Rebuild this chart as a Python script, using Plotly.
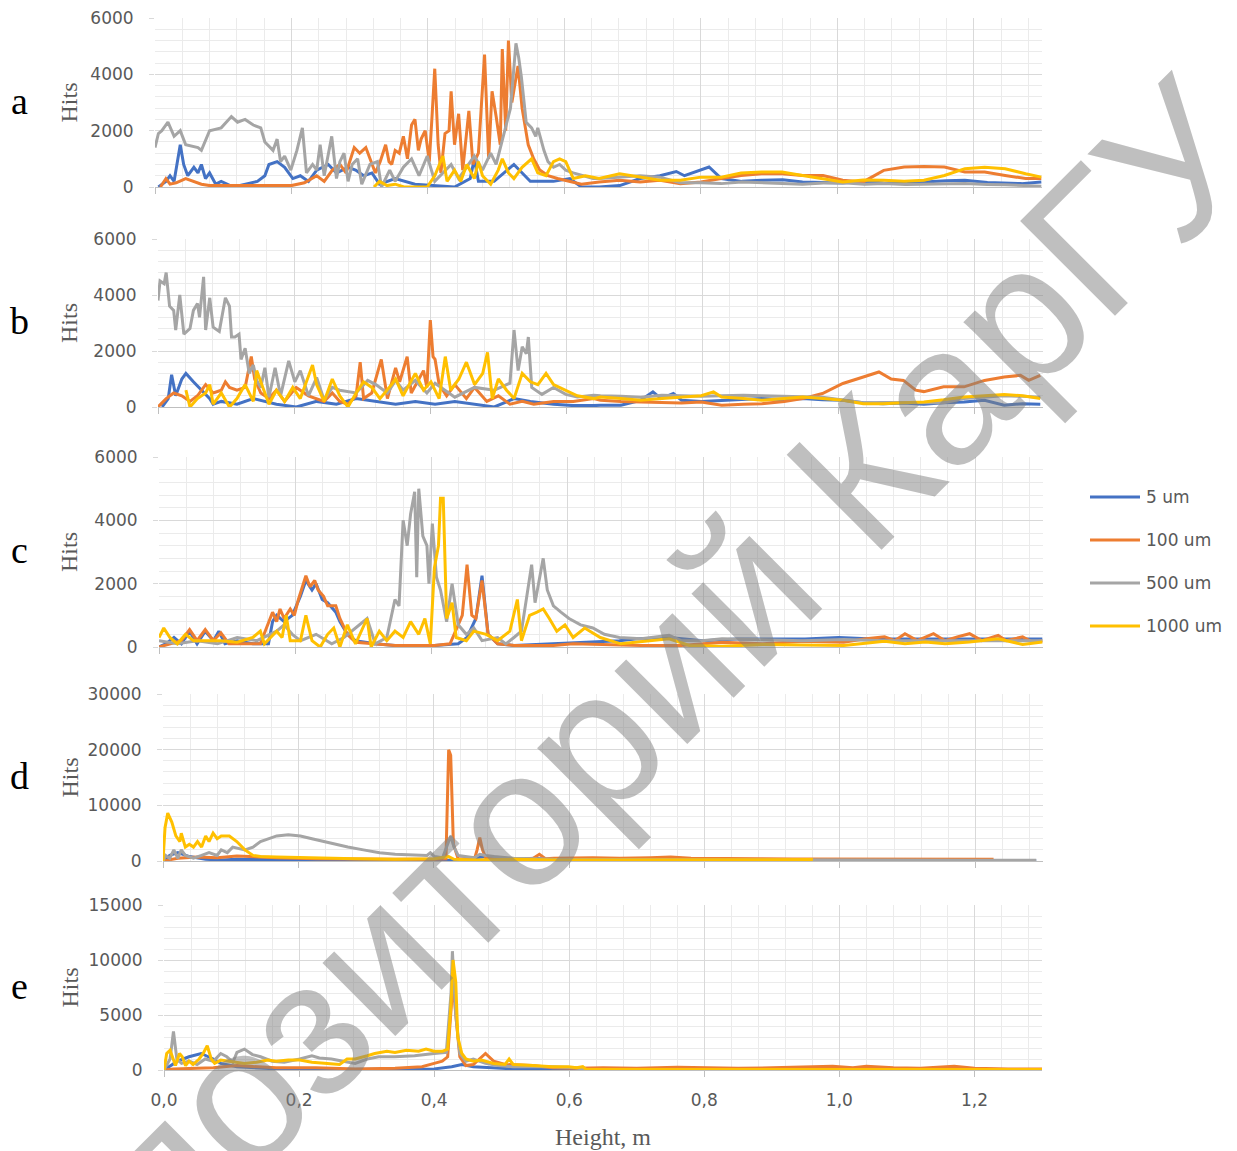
import plotly.graph_objects as go

W, H = 1237, 1151

SERIES_NAMES = ["5 um", "100 um", "500 um", "1000 um"]
SERIES_COLORS = ["#4472C4", "#ED7D31", "#A5A5A5", "#FFC000"]
PANEL_LABELS = ["a", "b", "c", "d", "e"]
Y_MAX = [6000, 6000, 6000, 30000, 15000]
Y_MAJOR = [2000, 2000, 2000, 10000, 5000]
Y_MINOR = [400, 400, 400, 2000, 1000]
X_TICK_VALUES = [0.0, 0.2, 0.4, 0.6, 0.8, 1.0, 1.2]
X_TICK_LABELS = ["0,0", "0,2", "0,4", "0,6", "0,8", "1,0", "1,2"]
X_TITLE = "Height, m"
Y_TITLE = "Hits"
WATERMARK = "Репозиторий КарГУ"

# ---------------- panel a ----------------
A_5UM = [(0.005,0),(0.016,200),(0.022,400),(0.028,200),(0.037,1500),(0.042,800),(0.048,400),(0.057,700),(0.063,500),(0.068,800),(0.074,300),(0.080,500),(0.089,100),(0.097,200),(0.115,0),(0.132,100),(0.150,200),(0.161,400),(0.167,800),(0.179,900),(0.190,700),(0.202,300),(0.213,400),(0.225,200),(0.237,600),(0.254,800),(0.266,500),(0.283,700),(0.294,600),(0.306,400),(0.318,500),(0.329,100),(0.352,300),(0.381,100),(0.410,50),(0.439,0),(0.462,300),(0.468,1000),(0.474,200),(0.497,200),(0.526,800),(0.550,200),(0.584,200),(0.608,300),(0.625,0),(0.651,0),(0.681,50),(0.711,300),(0.740,400),(0.764,550),(0.776,400),(0.794,550),(0.812,710),(0.830,300),(0.860,200),(0.889,240),(0.920,260),(0.949,180),(0.980,160),(1.008,140),(1.040,200),(1.068,140),(1.100,120),(1.127,180),(1.160,220),(1.187,240),(1.220,160),(1.246,140),(1.270,120),(1.299,180)]
A_100UM = [(0.008,0),(0.016,300),(0.022,100),(0.031,150),(0.045,300),(0.057,200),(0.068,100),(0.080,50),(0.121,50),(0.167,50),(0.200,50),(0.219,150),(0.231,300),(0.237,400),(0.248,200),(0.260,600),(0.271,800),(0.280,500),(0.292,1400),(0.300,1200),(0.309,1400),(0.318,800),(0.323,500),(0.330,900),(0.338,1500),(0.343,900),(0.347,800),(0.352,1300),(0.358,1200),(0.364,1800),(0.370,1000),(0.376,2200),(0.381,2400),(0.386,1300),(0.390,1700),(0.396,2000),(0.402,900),(0.406,2500),(0.410,4200),(0.415,1500),(0.419,500),(0.425,1900),(0.431,2000),(0.434,3400),(0.439,1500),(0.445,2600),(0.451,600),(0.460,2700),(0.466,800),(0.474,1200),(0.483,4700),(0.489,1000),(0.494,3400),(0.500,2500),(0.506,1500),(0.509,4900),(0.514,2000),(0.518,5200),(0.523,3000),(0.532,4300),(0.538,2800),(0.547,1500),(0.555,1000),(0.564,600),(0.576,400),(0.590,300),(0.608,200),(0.625,100),(0.651,180),(0.681,240),(0.711,180),(0.740,240),(0.770,120),(0.800,180),(0.830,300),(0.859,410),(0.889,470),(0.919,470),(0.949,410),(0.979,410),(1.008,240),(1.038,180),(1.068,590),(1.098,710),(1.127,730),(1.157,710),(1.187,530),(1.216,530),(1.246,410),(1.276,300),(1.299,300)]
A_500UM = [(0.000,1400),(0.005,1900),(0.010,2000),(0.019,2300),(0.028,1800),(0.037,2000),(0.045,1500),(0.063,1400),(0.068,1300),(0.080,2000),(0.097,2100),(0.112,2500),(0.121,2300),(0.132,2400),(0.144,2200),(0.155,2100),(0.161,1600),(0.173,1300),(0.179,1700),(0.184,900),(0.190,1100),(0.199,600),(0.208,1300),(0.216,2100),(0.222,500),(0.231,800),(0.237,600),(0.242,1500),(0.248,400),(0.259,1800),(0.266,300),(0.271,900),(0.277,1200),(0.283,200),(0.289,800),(0.297,1000),(0.303,100),(0.315,800),(0.326,900),(0.332,0),(0.344,600),(0.352,200),(0.364,700),(0.376,1000),(0.387,400),(0.399,1100),(0.410,200),(0.422,500),(0.434,800),(0.445,300),(0.457,700),(0.468,1100),(0.480,600),(0.492,1200),(0.500,800),(0.512,2000),(0.521,2800),(0.529,5100),(0.533,4600),(0.537,3900),(0.544,2300),(0.552,2100),(0.558,1800),(0.561,2100),(0.570,1300),(0.576,900),(0.584,700),(0.593,800),(0.602,600),(0.613,500),(0.642,300),(0.651,300),(0.681,350),(0.711,400),(0.740,350),(0.770,150),(0.800,150),(0.830,120),(0.860,180),(0.889,150),(0.920,120),(0.949,100),(0.980,140),(1.008,150),(1.040,100),(1.068,120),(1.100,90),(1.127,100),(1.160,130),(1.187,120),(1.220,90),(1.246,80),(1.299,30)]
A_1000UM = [(0.321,0),(0.329,200),(0.340,50),(0.352,100),(0.365,0),(0.381,0),(0.399,0),(0.410,400),(0.422,1100),(0.428,200),(0.439,600),(0.448,200),(0.457,800),(0.468,300),(0.474,900),(0.480,400),(0.492,100),(0.503,600),(0.509,1000),(0.518,500),(0.526,300),(0.538,700),(0.552,1000),(0.561,500),(0.573,400),(0.584,900),(0.593,1000),(0.602,900),(0.613,300),(0.631,400),(0.651,300),(0.681,470),(0.711,350),(0.740,240),(0.770,240),(0.800,350),(0.830,350),(0.859,500),(0.889,530),(0.919,530),(0.949,410),(0.979,300),(1.008,180),(1.038,250),(1.068,240),(1.098,200),(1.127,240),(1.157,410),(1.187,650),(1.216,700),(1.246,650),(1.276,470),(1.299,350)]

# ---------------- panel b ----------------
B_5UM = [(0.006,0),(0.015,300),(0.020,1150),(0.026,400),(0.035,1000),(0.041,1200),(0.052,900),(0.064,600),(0.076,300),(0.081,100),(0.093,200),(0.116,100),(0.140,300),(0.174,100),(0.203,0),(0.233,200),(0.262,100),(0.291,300),(0.320,200),(0.349,100),(0.378,200),(0.407,100),(0.436,200),(0.465,100),(0.494,0),(0.523,300),(0.547,200),(0.581,100),(0.610,50),(0.640,50),(0.650,60),(0.680,60),(0.709,240),(0.727,540),(0.739,300),(0.757,480),(0.769,240),(0.798,200),(0.828,240),(0.860,280),(0.887,300),(0.920,260),(0.947,300),(0.976,260),(1.006,240),(1.036,150),(1.065,120),(1.095,140),(1.125,100),(1.154,150),(1.184,180),(1.214,240),(1.243,60),(1.270,120),(1.296,100)]
B_100UM = [(0.000,0),(0.012,300),(0.023,500),(0.035,400),(0.047,200),(0.058,400),(0.070,800),(0.081,500),(0.093,600),(0.099,900),(0.105,700),(0.116,600),(0.128,700),(0.137,1800),(0.142,1000),(0.151,500),(0.163,300),(0.174,600),(0.186,200),(0.203,700),(0.221,400),(0.233,300),(0.244,200),(0.256,500),(0.267,200),(0.279,100),(0.291,400),(0.297,1600),(0.302,300),(0.314,500),(0.328,1700),(0.337,300),(0.349,1400),(0.355,900),(0.366,1800),(0.372,500),(0.384,1000),(0.390,1300),(0.395,700),(0.400,3100),(0.404,1800),(0.407,1700),(0.413,800),(0.424,400),(0.436,800),(0.453,300),(0.465,700),(0.483,200),(0.500,400),(0.517,100),(0.535,200),(0.552,100),(0.581,200),(0.610,200),(0.640,300),(0.650,240),(0.680,200),(0.709,180),(0.740,160),(0.769,140),(0.798,180),(0.828,60),(0.860,100),(0.887,120),(0.920,200),(0.947,300),(0.976,480),(1.006,840),(1.036,1070),(1.059,1250),(1.077,1000),(1.095,950),(1.113,600),(1.125,550),(1.154,720),(1.184,720),(1.214,950),(1.243,1070),(1.267,1130),(1.279,950),(1.296,1130)]
B_500UM = [(0.000,3800),(0.003,4500),(0.009,4400),(0.012,4800),(0.017,3600),(0.023,3450),(0.026,2750),(0.032,4000),(0.038,2600),(0.047,2800),(0.052,3450),(0.058,3700),(0.061,3200),(0.067,4650),(0.070,2750),(0.076,3900),(0.081,2850),(0.090,2700),(0.099,3900),(0.105,3600),(0.108,2500),(0.113,2500),(0.119,2600),(0.122,1700),(0.128,2100),(0.134,1200),(0.140,1500),(0.145,950),(0.151,700),(0.157,1400),(0.163,350),(0.172,1400),(0.180,400),(0.192,1650),(0.201,900),(0.209,1300),(0.221,400),(0.233,1050),(0.244,250),(0.256,700),(0.267,600),(0.291,500),(0.308,950),(0.320,800),(0.337,500),(0.349,950),(0.360,600),(0.378,950),(0.395,500),(0.407,850),(0.436,350),(0.465,700),(0.494,600),(0.517,850),(0.523,2750),(0.529,1300),(0.535,2150),(0.541,1900),(0.544,2500),(0.549,700),(0.564,450),(0.581,700),(0.599,450),(0.616,360),(0.640,420),(0.650,400),(0.680,380),(0.709,350),(0.740,420),(0.769,400),(0.798,380),(0.828,400),(0.860,420),(0.887,400),(0.920,380),(0.947,350),(0.976,350),(1.006,250),(1.036,150),(1.065,160),(1.095,150),(1.125,140),(1.154,150),(1.184,300),(1.214,350),(1.243,400),(1.270,380),(1.296,350)]
B_1000UM = [(0.041,600),(0.047,0),(0.058,300),(0.070,500),(0.076,800),(0.081,100),(0.093,500),(0.105,0),(0.116,300),(0.128,800),(0.140,200),(0.145,1300),(0.154,700),(0.163,100),(0.174,600),(0.186,200),(0.198,700),(0.209,300),(0.227,1500),(0.233,800),(0.244,200),(0.256,1000),(0.267,400),(0.279,0),(0.291,500),(0.302,900),(0.314,700),(0.326,300),(0.343,800),(0.349,1000),(0.360,400),(0.378,1200),(0.390,600),(0.401,900),(0.413,300),(0.422,1800),(0.430,600),(0.442,1000),(0.453,1600),(0.465,800),(0.477,1200),(0.484,1950),(0.491,300),(0.500,1000),(0.512,600),(0.523,300),(0.535,1200),(0.547,900),(0.558,800),(0.570,1200),(0.581,800),(0.599,600),(0.616,400),(0.640,300),(0.650,360),(0.680,300),(0.709,240),(0.740,300),(0.769,360),(0.798,400),(0.816,540),(0.828,360),(0.860,300),(0.887,240),(0.920,300),(0.947,360),(0.976,300),(1.006,240),(1.036,120),(1.065,120),(1.095,150),(1.125,180),(1.154,260),(1.184,360),(1.214,400),(1.243,450),(1.270,400),(1.296,300)]

# ---------------- panel c ----------------
C_5UM = [(0.000,0),(0.010,100),(0.022,300),(0.033,100),(0.045,500),(0.056,100),(0.068,500),(0.080,200),(0.088,500),(0.097,100),(0.115,200),(0.138,100),(0.161,100),(0.167,800),(0.173,1000),(0.184,800),(0.196,1000),(0.208,1600),(0.216,2100),(0.225,1800),(0.231,2000),(0.240,1500),(0.248,1400),(0.260,1100),(0.266,800),(0.277,400),(0.289,200),(0.318,100),(0.347,50),(0.405,50),(0.440,100),(0.453,300),(0.466,900),(0.475,2250),(0.484,400),(0.498,100),(0.522,50),(0.580,100),(0.620,150),(0.677,200),(0.700,250),(0.750,300),(0.800,200),(0.850,250),(0.900,250),(0.950,250),(1.000,300),(1.050,250),(1.100,250),(1.150,250),(1.200,250),(1.250,250),(1.299,250)]
C_100UM = [(0.000,0),(0.016,100),(0.033,200),(0.045,550),(0.056,200),(0.068,550),(0.080,200),(0.091,450),(0.103,100),(0.126,100),(0.149,100),(0.167,1100),(0.173,800),(0.178,1200),(0.184,900),(0.193,1200),(0.199,1000),(0.205,1500),(0.216,2250),(0.222,1900),(0.229,2100),(0.234,1800),(0.242,1600),(0.248,1300),(0.260,1300),(0.266,900),(0.277,400),(0.289,150),(0.318,100),(0.347,50),(0.376,50),(0.405,50),(0.428,100),(0.446,1000),(0.453,2600),(0.460,1000),(0.466,900),(0.475,2100),(0.484,400),(0.498,100),(0.522,50),(0.580,50),(0.609,100),(0.677,50),(0.709,50),(0.768,50),(0.828,150),(0.888,100),(0.947,180),(1.007,150),(1.037,250),(1.067,320),(1.082,200),(1.097,420),(1.115,200),(1.139,420),(1.156,200),(1.174,320),(1.192,420),(1.210,200),(1.234,370),(1.246,200),(1.270,320),(1.285,150),(1.299,200)]
C_500UM = [(0.000,200),(0.027,100),(0.056,200),(0.086,100),(0.115,300),(0.144,200),(0.173,500),(0.184,700),(0.196,400),(0.208,200),(0.231,400),(0.254,100),(0.272,300),(0.289,600),(0.306,900),(0.318,100),(0.335,300),(0.347,1500),(0.353,1300),(0.359,4000),(0.365,3200),(0.370,4200),(0.376,4900),(0.379,2200),(0.382,5000),(0.388,3500),(0.394,3200),(0.397,2000),(0.402,3900),(0.408,2200),(0.414,1800),(0.423,800),(0.431,2000),(0.440,700),(0.452,400),(0.463,600),(0.475,200),(0.498,300),(0.510,100),(0.522,300),(0.533,500),(0.548,2600),(0.553,1400),(0.559,2100),(0.565,2800),(0.571,1800),(0.580,1300),(0.591,1100),(0.603,900),(0.620,700),(0.638,600),(0.655,400),(0.677,300),(0.709,260),(0.750,370),(0.768,200),(0.798,200),(0.828,260),(0.888,230),(0.947,200),(1.007,240),(1.067,200),(1.127,200),(1.187,200),(1.246,200),(1.299,200)]
C_1000UM = [(0.000,300),(0.007,600),(0.016,300),(0.027,100),(0.039,400),(0.051,200),(0.068,200),(0.091,200),(0.115,150),(0.138,300),(0.149,500),(0.155,100),(0.173,500),(0.181,300),(0.187,1000),(0.193,200),(0.208,200),(0.216,1000),(0.225,200),(0.237,0),(0.248,400),(0.257,600),(0.266,0),(0.277,700),(0.289,100),(0.306,900),(0.312,0),(0.324,500),(0.335,200),(0.347,500),(0.359,300),(0.370,800),(0.382,400),(0.391,900),(0.399,100),(0.405,2500),(0.411,3200),(0.414,4700),(0.418,4700),(0.423,900),(0.431,1400),(0.437,300),(0.452,200),(0.463,500),(0.481,400),(0.498,200),(0.516,500),(0.527,1500),(0.533,200),(0.545,1000),(0.556,1100),(0.565,1200),(0.574,900),(0.585,500),(0.597,700),(0.609,300),(0.626,600),(0.649,300),(0.679,100),(0.709,160),(0.750,260),(0.780,50),(0.828,20),(0.888,80),(0.947,70),(1.007,50),(1.067,180),(1.097,100),(1.127,160),(1.156,100),(1.192,160),(1.234,260),(1.270,80),(1.299,160)]

# ---------------- panel d ----------------
D_5UM = [(0.000,0),(0.010,1000),(0.022,1500),(0.039,800),(0.063,300),(0.086,200),(0.109,300),(0.168,200),(0.284,100),(0.401,100),(0.430,200),(0.460,600),(0.480,800),(0.518,300),(0.550,500),(0.577,200),(0.635,200),(0.700,150),(0.800,100),(0.900,100),(1.000,80),(1.100,60),(1.200,50),(1.290,50)]
D_100UM = [(0.000,0),(0.022,500),(0.051,700),(0.080,600),(0.109,900),(0.138,700),(0.168,600),(0.226,400),(0.284,300),(0.343,300),(0.401,300),(0.418,400),(0.422,20000),(0.425,19000),(0.429,3000),(0.436,400),(0.460,300),(0.464,2000),(0.468,4200),(0.472,2000),(0.477,500),(0.518,300),(0.547,500),(0.556,1200),(0.565,400),(0.577,500),(0.635,600),(0.675,500),(0.720,600),(0.750,700),(0.780,500),(0.830,400),(0.880,400),(0.930,350),(0.980,350),(1.050,300),(1.100,300),(1.150,300),(1.227,300)]
D_500UM = [(0.000,0),(0.004,1000),(0.010,500),(0.016,2000),(0.022,500),(0.027,2000),(0.033,1000),(0.045,500),(0.057,1000),(0.068,1500),(0.080,1000),(0.086,2000),(0.095,1500),(0.103,2500),(0.121,2000),(0.133,2500),(0.144,3500),(0.156,4000),(0.168,4500),(0.185,4700),(0.203,4500),(0.220,4000),(0.238,3500),(0.255,3000),(0.273,2500),(0.296,2000),(0.320,1500),(0.343,1200),(0.372,1000),(0.390,1000),(0.395,1500),(0.401,800),(0.413,600),(0.420,3000),(0.425,4500),(0.430,2500),(0.436,1000),(0.460,600),(0.468,1200),(0.477,1000),(0.489,800),(0.518,500),(0.577,300),(0.675,250),(0.800,200),(0.900,200),(1.000,200),(1.100,150),(1.200,150),(1.290,150)]
D_1000UM = [(0.000,0),(0.003,6000),(0.007,8600),(0.013,7000),(0.019,4500),(0.025,3500),(0.027,5000),(0.033,2500),(0.039,3000),(0.045,2500),(0.051,3500),(0.057,2500),(0.063,4500),(0.068,3500),(0.074,5000),(0.080,4000),(0.086,4500),(0.098,4500),(0.109,3500),(0.121,2000),(0.133,1000),(0.144,800),(0.168,700),(0.226,500),(0.284,400),(0.343,300),(0.401,400),(0.422,800),(0.430,300),(0.460,200),(0.518,300),(0.577,200),(0.675,200),(0.750,250),(0.850,300),(0.960,250)]

# ---------------- panel e ----------------
E_5UM = [(0.000,0),(0.020,800),(0.037,1200),(0.055,1500),(0.073,1000),(0.084,600),(0.108,300),(0.137,200),(0.166,100),(0.225,50),(0.342,50),(0.400,100),(0.426,300),(0.441,500),(0.458,300),(0.517,100),(0.611,50),(0.700,20),(0.900,20),(1.100,20),(1.300,20)]
E_100UM = [(0.000,0),(0.014,100),(0.049,150),(0.073,200),(0.108,400),(0.137,300),(0.166,200),(0.225,200),(0.283,100),(0.342,150),(0.382,300),(0.400,600),(0.412,800),(0.420,1200),(0.425,5000),(0.428,8000),(0.432,5000),(0.438,1200),(0.447,400),(0.458,500),(0.476,1500),(0.488,800),(0.505,500),(0.546,400),(0.575,200),(0.611,150),(0.650,200),(0.700,150),(0.760,250),(0.800,200),(0.850,150),(0.900,200),(0.950,250),(0.990,350),(1.020,200),(1.040,350),(1.080,200),(1.120,150),(1.170,350),(1.200,150),(1.250,100),(1.300,100)]
E_500UM = [(0.000,0),(0.005,500),(0.009,1000),(0.014,3500),(0.019,1000),(0.026,600),(0.037,800),(0.049,500),(0.061,1000),(0.073,800),(0.084,1500),(0.093,1200),(0.102,700),(0.108,1600),(0.119,1900),(0.131,1400),(0.143,1200),(0.160,800),(0.178,700),(0.201,1000),(0.219,1300),(0.230,1100),(0.248,1000),(0.265,800),(0.283,600),(0.301,1000),(0.318,1200),(0.342,1200),(0.371,1300),(0.400,1500),(0.418,1600),(0.425,7000),(0.427,10800),(0.432,5000),(0.438,1500),(0.447,800),(0.458,1000),(0.476,600),(0.494,400),(0.517,300),(0.575,300),(0.611,200),(0.620,50),(0.800,50),(1.000,50),(1.300,30)]
E_1000UM = [(0.000,0),(0.004,1500),(0.009,1800),(0.014,800),(0.017,400),(0.023,1500),(0.027,1200),(0.032,400),(0.037,800),(0.043,500),(0.052,1000),(0.058,1500),(0.064,2200),(0.070,1000),(0.075,600),(0.084,900),(0.096,800),(0.108,700),(0.119,600),(0.137,700),(0.154,900),(0.166,800),(0.184,900),(0.201,900),(0.219,700),(0.242,600),(0.260,500),(0.271,1000),(0.283,1000),(0.301,1300),(0.312,1500),(0.330,1700),(0.342,1600),(0.359,1800),(0.377,1700),(0.388,1900),(0.400,1700),(0.412,1700),(0.420,1900),(0.425,6000),(0.428,10000),(0.432,8000),(0.435,3000),(0.441,1500),(0.447,1000),(0.458,800),(0.470,900),(0.488,600),(0.505,500),(0.511,1000),(0.517,500),(0.546,400),(0.575,300),(0.599,300),(0.611,200),(0.620,300),(0.625,50),(0.800,50),(1.000,50),(1.300,50)]

PANEL_DATA = [
    [A_5UM, A_100UM, A_500UM, A_1000UM],
    [B_5UM, B_100UM, B_500UM, B_1000UM],
    [C_5UM, C_100UM, C_500UM, C_1000UM],
    [D_5UM, D_100UM, D_500UM, D_1000UM],
    [E_5UM, E_100UM, E_500UM, E_1000UM],
]

# layout: plot-area boxes in pixels (left, right, top, bottom)
PANEL_BOX = [(155, 1042, 18, 187), (158, 1043, 239, 407), (159, 1043, 457, 647),
             (163, 1043, 694, 861), (164, 1042, 905, 1070)]


def px(x):
    return x / W


def py(y):
    return 1 - y / H


TICK_FONT = dict(family="DejaVu Sans", size=17, color="#595959")
MAJOR_GRID = "#D9D9D9"
MINOR_GRID = "#EBEBEB"

fig = go.Figure()
layout = dict(
    width=W, height=H, margin=dict(l=0, r=0, t=0, b=0, pad=0, autoexpand=False),
    paper_bgcolor="white", plot_bgcolor="white", showlegend=False,
    annotations=[], shapes=[],
)

for i, series_list in enumerate(PANEL_DATA):
    sfx = "" if i == 0 else str(i + 1)
    for name, color, pts in zip(SERIES_NAMES, SERIES_COLORS, series_list):
        xs, ys = zip(*pts)
        fig.add_trace(go.Scatter(x=list(xs), y=list(ys), mode="lines", name=name,
                                 line=dict(color=color, width=3),
                                 xaxis="x" + sfx, yaxis="y" + sfx, hoverinfo="skip"))
    l, r, t, b = PANEL_BOX[i]
    last = i == len(PANEL_DATA) - 1
    layout["xaxis" + sfx] = dict(
        domain=[px(l), px(r)], anchor="y" + sfx, range=[0, 1.3], automargin=False,
        tickvals=X_TICK_VALUES, ticktext=X_TICK_LABELS, showticklabels=last,
        ticks="outside", ticklen=6, tickwidth=1.3, tickcolor="#BFBFBF",
        showgrid=True, gridcolor=MAJOR_GRID, gridwidth=1.3,
        minor=dict(dtick=0.04, tick0=0, showgrid=True, gridcolor=MINOR_GRID, gridwidth=1.3),
        showline=True, linecolor="#BFBFBF", linewidth=1.3, zeroline=False,
        tickfont=TICK_FONT, ticklabelstandoff=8,
    )
    layout["yaxis" + sfx] = dict(
        domain=[py(b), py(t)], anchor="x" + sfx, range=[0, Y_MAX[i]], automargin=False,
        tick0=0, dtick=Y_MAJOR[i], tickformat="d",
        ticks="outside", ticklen=5, tickwidth=1.3, tickcolor=MAJOR_GRID,
        showgrid=True, gridcolor=MAJOR_GRID, gridwidth=1.3,
        minor=dict(dtick=Y_MINOR[i], tick0=0, showgrid=True, gridcolor=MINOR_GRID, gridwidth=1.3),
        showline=False, zeroline=False, tickfont=TICK_FONT, ticklabelstandoff=12,
    )
    cy = (t + b) / 2
    layout["annotations"].append(dict(
        text=PANEL_LABELS[i], x=px(19), y=py(cy - 2), xref="paper", yref="paper",
        showarrow=False, xanchor="center", yanchor="middle",
        font=dict(family="Liberation Serif", size=38, color="black")))
    layout["annotations"].append(dict(
        text=Y_TITLE, x=px(69), y=py(cy), xref="paper", yref="paper", textangle=-90,
        showarrow=False, xanchor="center", yanchor="middle",
        font=dict(family="Liberation Serif", size=24, color="#595959")))

layout["annotations"].append(dict(
    text=X_TITLE, x=px(603), y=py(1137), xref="paper", yref="paper",
    showarrow=False, xanchor="center", yanchor="middle",
    font=dict(family="Liberation Serif", size=24, color="#595959")))

# legend drawn manually
LEG_Y = [497, 540, 583, 626]
for name, color, ly in zip(SERIES_NAMES, SERIES_COLORS, LEG_Y):
    layout["shapes"].append(dict(type="line", xref="paper", yref="paper",
                                 x0=px(1090), x1=px(1140), y0=py(ly), y1=py(ly),
                                 line=dict(color=color, width=3)))
    layout["annotations"].append(dict(
        text=name, x=px(1144), y=py(ly), xref="paper", yref="paper",
        showarrow=False, xanchor="left", yanchor="middle",
        font=dict(family="DejaVu Sans", size=17, color="#595959")))

# watermark
layout["annotations"].append(dict(
    text=WATERMARK, x=px(590), y=py(745), xref="paper", yref="paper",
    showarrow=False, xanchor="center", yanchor="middle", textangle=-45,
    font=dict(family="Liberation Sans", size=195, color="rgba(128,128,128,0.5)")))

fig.update_layout(**layout)
fig.write_html("out.html", config={"displayModeBar": False},
               post_script="document.body.style.margin='0';")
